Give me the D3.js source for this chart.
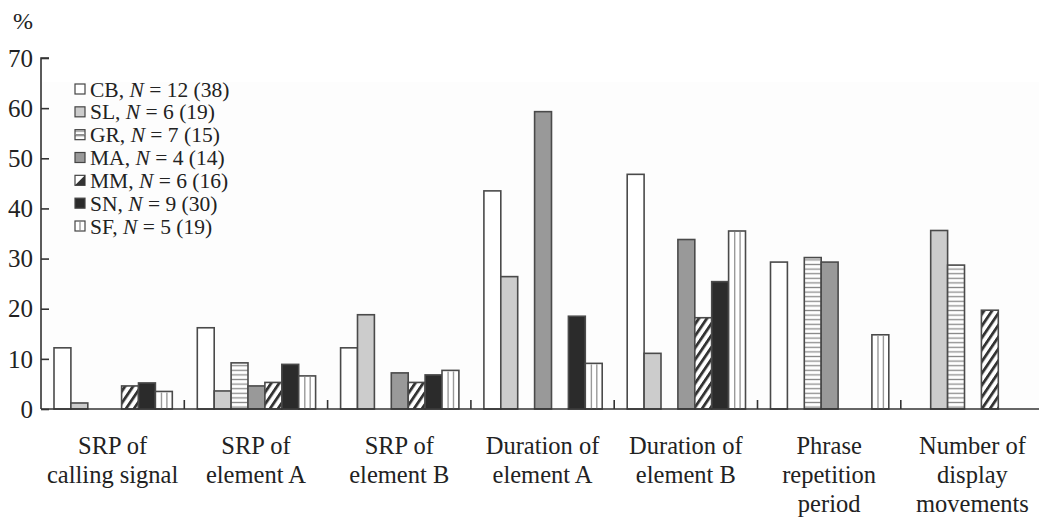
<!DOCTYPE html>
<html>
<head>
<meta charset="utf-8">
<script src="https://cdn.jsdelivr.net/npm/d3@7/dist/d3.min.js"></script>
<style>
  html, body { margin: 0; padding: 0; background: #fff; }
  svg text { font-family: "Liberation Serif", "Times New Roman", "DejaVu Serif", serif; }
</style>
</head>
<body>
<svg id="chart" width="1039" height="520"></svg>
<script>
// ---- data ----
const categories = [
  ["SRP of", "calling signal"],
  ["SRP of", "element A"],
  ["SRP of", "element B"],
  ["Duration of", "element A"],
  ["Duration of", "element B"],
  ["Phrase", "repetition", "period"],
  ["Number of", "display", "movements"]
];
const seriesNames = ["CB", "SL", "GR", "MA", "MM", "SN", "SF"];
const seriesN = ["12 (38)", "6 (19)", "7 (15)", "4 (14)", "6 (16)", "9 (30)", "5 (19)"];
// values per series, one per category (%)
const CB = [12.2, 16.2, 12.2, 43.5, 46.8, 29.3, 0];
const SL = [1.2, 3.6, 18.8, 26.4, 11.1, 0, 35.6];
const GR = [0, 9.2, 0, 0, 0, 30.2, 28.7];
const MA = [0, 4.6, 7.2, 59.3, 33.8, 29.3, 0];
const MM = [4.6, 5.3, 5.3, 0, 18.2, 0, 19.7];
const SN = [5.2, 8.9, 6.8, 18.5, 25.4, 0, 0];
const SF = [3.5, 6.6, 7.7, 9.1, 35.5, 14.8, 0];
const yTicks = [0, 10, 20, 30, 40, 50, 60, 70];

const seriesValues = [CB, SL, GR, MA, MM, SN, SF];

const FONT = "Liberation Serif, Times New Roman, DejaVu Serif, serif";
const svg = d3.select("#chart");
const W = 1039, H = 520;
const x0 = 41, y0 = 409;

// defs / patterns
const defs = svg.append("defs");
const pGR = defs.append("pattern").attr("id", "pGR").attr("patternUnits", "userSpaceOnUse")
  .attr("width", 10).attr("height", 4.6);
pGR.append("rect").attr("width", 10).attr("height", 4.6).attr("fill", "#fff");
pGR.append("line").attr("x1", 0).attr("x2", 10).attr("y1", 2.3).attr("y2", 2.3)
  .attr("stroke", "#8a8a8a").attr("stroke-width", 1.3);

const pMM = defs.append("pattern").attr("id", "pMM").attr("patternUnits", "userSpaceOnUse")
  .attr("width", 8).attr("height", 12).attr("patternTransform", "skewX(-34)");
pMM.append("rect").attr("width", 8).attr("height", 12).attr("fill", "#fff");
pMM.append("rect").attr("x", 0).attr("width", 3.4).attr("height", 12).attr("fill", "#333");

const fills = {
  CB: "#ffffff", SL: "#cccccc", GR: "url(#pGR)", MA: "#999999",
  MM: "url(#pMM)", SN: "#2b2b2b", SF: "#ffffff"
};

// scales
const catIdx = d3.range(categories.length);
const xBand = d3.scaleBand().domain(catIdx).range([x0, x0 + 143.3 * 7]).paddingInner(0).paddingOuter(0);
const xInner = d3.scaleBand().domain(seriesNames).range([13, 131.3]).padding(0);
const y = d3.scaleLinear().domain([0, 70]).range([y0, 58]);

// very faint plot background
svg.append("rect").attr("x", x0).attr("y", 82).attr("width", W - x0).attr("height", y0 - 82)
  .attr("fill", "#fdfdfd");

// bars
const barData = [];
seriesNames.forEach((s, si) => {
  seriesValues[si].forEach((v, ci) => {
    if (v > 0) barData.push({ s, ci, v });
  });
});

const gBars = svg.append("g");
gBars.selectAll("rect.bar").data(barData).join("rect")
  .attr("class", "bar")
  .attr("x", d => xBand(d.ci) + xInner(d.s))
  .attr("y", d => y(d.v))
  .attr("width", xInner.bandwidth())
  .attr("height", d => y(0) - y(d.v))
  .attr("fill", d => fills[d.s])
  .attr("stroke", "#4a4a4a")
  .attr("stroke-width", 1.6);

// SF vertical stripes
const sfBars = barData.filter(d => d.s === "SF");
[0.36, 0.68].forEach(f => {
  gBars.selectAll(null).data(sfBars).join("line")
    .attr("x1", d => xBand(d.ci) + xInner(d.s) + xInner.bandwidth() * f)
    .attr("x2", d => xBand(d.ci) + xInner(d.s) + xInner.bandwidth() * f)
    .attr("y1", d => y(d.v) + 1)
    .attr("y2", y(0))
    .attr("stroke", "#9a9a9a").attr("stroke-width", 1.4);
});

// y axis
const yAxis = d3.axisRight(y).tickValues(yTicks).tickSize(8).tickFormat("");
const gy = svg.append("g").attr("transform", `translate(${x0},0)`).call(yAxis);
gy.select(".domain").attr("stroke", "#333").attr("stroke-width", 1.6).attr("d", `M8,${y(70)}H0V${y0}`);
gy.selectAll(".tick line").attr("stroke", "#333").attr("stroke-width", 1.6);

svg.append("g").selectAll("text").data(yTicks).join("text")
  .attr("x", 33).attr("y", d => y(d)).attr("dy", "0.35em")
  .attr("font-family", FONT)
  .attr("text-anchor", "end").attr("font-size", 25).attr("fill", "#222")
  .text(d => d);

svg.append("text").attr("x", 13).attr("y", 29).attr("font-family", FONT)
  .attr("font-size", 24).attr("fill", "#222").text("%");

// x axis
svg.append("line").attr("x1", x0).attr("x2", W).attr("y1", y0).attr("y2", y0)
  .attr("stroke", "#333").attr("stroke-width", 1.6);
svg.append("g").selectAll("line").data(catIdx.slice(1)).join("line")
  .attr("x1", d => xBand(d)).attr("x2", d => xBand(d))
  .attr("y1", y0).attr("y2", y0 - 9)
  .attr("stroke", "#333").attr("stroke-width", 1.6);

// category labels
const gLab = svg.append("g").attr("font-family", FONT).attr("font-size", 24.5)
  .attr("fill", "#222").attr("text-anchor", "middle");
categories.forEach((lines, ci) => {
  const t = gLab.append("text").attr("x", xBand(ci) + xBand.bandwidth() / 2).attr("y", 454);
  lines.forEach((ln, i) => {
    t.append("tspan").attr("x", xBand(ci) + xBand.bandwidth() / 2).attr("dy", i === 0 ? 0 : 29).text(ln);
  });
});

// legend
const gLeg = svg.append("g").attr("font-family", FONT).attr("font-size", 21.5).attr("fill", "#222");
const legY = d3.scalePoint().domain(seriesNames).range([89, 226]);
seriesNames.forEach((s, i) => {
  const cy = legY(s);
  gLeg.append("rect").attr("x", 75).attr("y", cy - 5).attr("width", 10).attr("height", 10)
    .attr("fill", s === "MM" ? "#fff" : fills[s]).attr("stroke", "#444").attr("stroke-width", 1.2);
  if (s === "MM") {
    gLeg.append("path").attr("d", `M${85},${cy - 5}L${85},${cy + 5}L${75},${cy + 5}Z`).attr("fill", "#333");
  }
  if (s === "GR") {
    gLeg.append("line").attr("x1", 75).attr("x2", 85).attr("y1", cy).attr("y2", cy).attr("stroke", "#888").attr("stroke-width", 1.2);
  }
  if (s === "SF") {
    gLeg.append("line").attr("x1", 80).attr("x2", 80).attr("y1", cy - 5).attr("y2", cy + 5).attr("stroke", "#888").attr("stroke-width", 1.2);
  }
  const t = gLeg.append("text").attr("x", 90).attr("y", cy).attr("dy", "0.35em");
  t.append("tspan").text(s + ", ");
  t.append("tspan").attr("font-style", "italic").text("N");
  t.append("tspan").text(" = " + seriesN[i]);
});
</script>
</body>
</html>
